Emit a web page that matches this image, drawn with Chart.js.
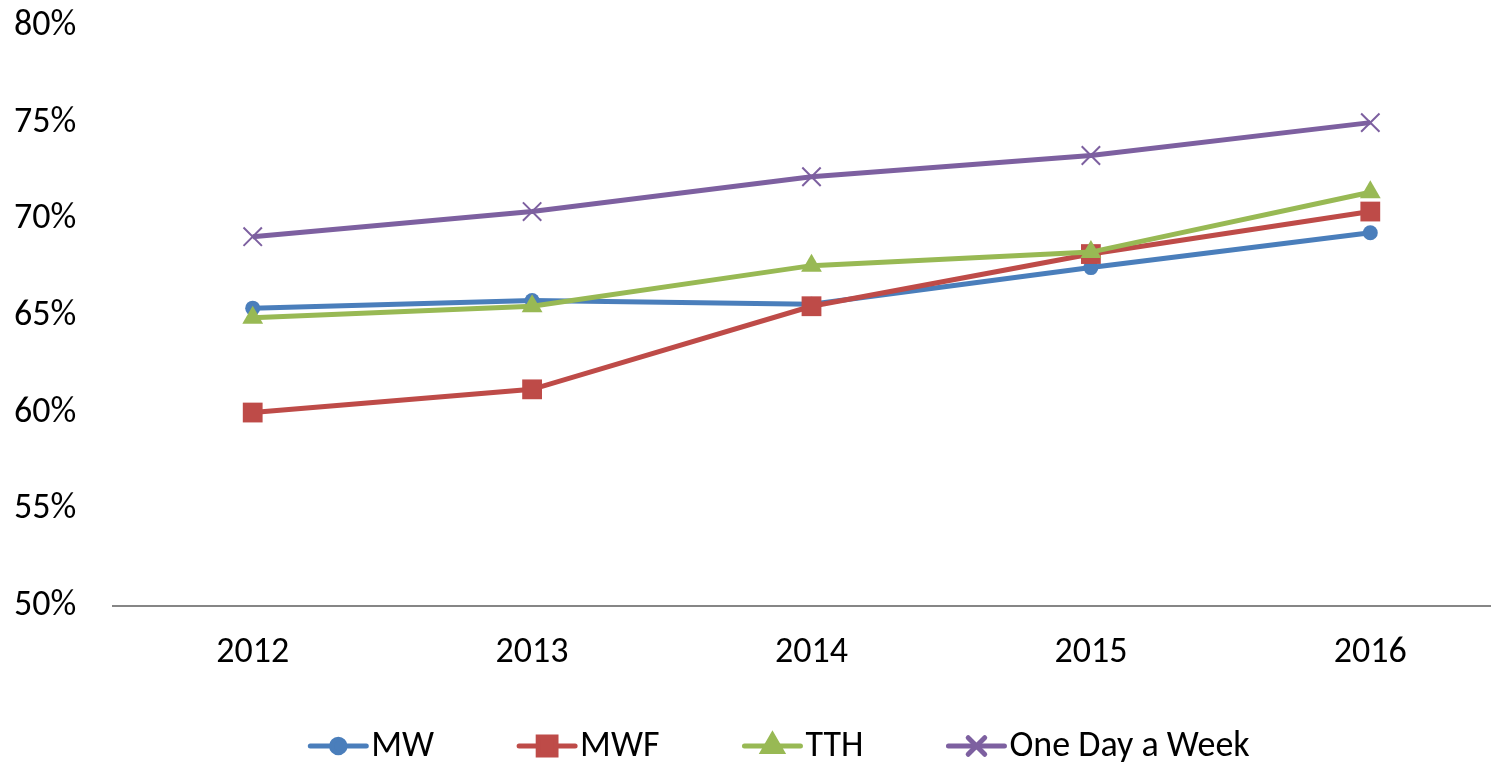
<!DOCTYPE html>
<html>
<head>
<meta charset="utf-8">
<script src="https://cdn.jsdelivr.net/npm/chart.js@4.4.1/dist/chart.umd.min.js"></script>
<style>
  html, body { margin: 0; padding: 0; background: #fff; overflow: hidden; }
  canvas { display: block; }
</style>
</head>
<body>
<canvas id="c" width="1510" height="766" style="width:1510px;height:766px"></canvas>
<script>
const years = ['2012', '2013', '2014', '2015', '2016'];
const seriesNames = ['MW', 'MWF', 'TTH', 'One Day a Week'];
const mwValues = [65.4, 65.8, 65.6, 67.5, 69.3];
const mwfValues = [60.0, 61.2, 65.5, 68.2, 70.4];
const tthValues = [64.9, 65.5, 67.6, 68.3, 71.4];
const oneDayValues = [69.1, 70.4, 72.2, 73.3, 75.0];
const yTicks = [50, 55, 60, 65, 70, 75, 80];

const FONT = "Carlito, Calibri, Lato, 'Open Sans', sans-serif";
const FS = 36;
const colors = ['#4A7EBB', '#BE4B48', '#98B954', '#7D60A0'];
const pointStyles = ['circle', 'rect', 'triangle', 'crossRot'];
const pointRadii = [7.5, 14, 12, 13];
const pointBorderWidths = [0, 0, 0, 2];
const allValues = [mwValues, mwfValues, tthValues, oneDayValues];

const datasets = seriesNames.map((name, i) => ({
  label: name,
  data: allValues[i],
  borderColor: colors[i],
  backgroundColor: colors[i],
  borderWidth: 5,
  tension: 0,
  pointStyle: pointStyles[i],
  pointRadius: pointRadii[i],
  pointHoverRadius: pointRadii[i],
  pointBackgroundColor: colors[i],
  pointBorderColor: colors[i],
  pointBorderWidth: pointBorderWidths[i],
  clip: false,
  order: 4 - i
}));

const customLegend = {
  id: 'customLegend',
  afterDraw(chart) {
    const ctx = chart.ctx;
    const centerX = 780, y = 746;
    const lineLen = 56, textGap = 5, itemGap = 85;
    ctx.save();
    ctx.font = FS + "px " + FONT;
    ctx.textBaseline = 'middle';
    const widths = seriesNames.map(n => lineLen + textGap + ctx.measureText(n).width);
    const total = widths.reduce((a, b) => a + b, 0) + itemGap * (seriesNames.length - 1);
    let x = centerX - total / 2;
    seriesNames.forEach((n, i) => {
      ctx.strokeStyle = colors[i];
      ctx.lineWidth = 5;
      ctx.lineCap = 'round';
      ctx.beginPath();
      ctx.moveTo(x, y);
      ctx.lineTo(x + lineLen, y);
      ctx.stroke();
      ctx.fillStyle = colors[i];
      Chart.helpers.drawPoint(ctx, {
        pointStyle: pointStyles[i],
        radius: pointRadii[i] * 0.9,
        borderWidth: pointBorderWidths[i] || 0.01,
        rotation: 0
      }, x + lineLen / 2, y);
      ctx.fillStyle = '#000';
      ctx.fillText(n, x + lineLen + textGap, y + 1);
      x += widths[i] + itemGap;
    });
    ctx.restore();
  }
};

new Chart(document.getElementById('c'), {
  type: 'line',
  data: { labels: years, datasets },
  options: {
    responsive: false,
    animation: false,
    events: [],
    layout: { autoPadding: false, padding: { left: 14, right: 0, top: 26, bottom: 65 } },
    plugins: { legend: { display: false }, tooltip: { enabled: false } },
    scales: {
      x: {
        offset: true,
        grid: { display: false, drawTicks: false },
        border: { display: true, color: '#868686', width: 2 },
        ticks: { color: '#000', font: { family: FONT, size: FS }, padding: 26 }
      },
      y: {
        min: 50, max: 80,
        afterBuildTicks(scale) { scale.ticks = yTicks.map(v => ({ value: v })); },
        afterFit(scale) { scale.width = 99; },
        grid: { display: false, drawTicks: false },
        border: { display: false },
        ticks: {
          color: '#000', font: { family: FONT, size: FS }, padding: 0,
          crossAlign: 'far',
          callback: v => v + '%'
        }
      }
    }
  },
  plugins: [customLegend]
});
</script>
</body>
</html>
